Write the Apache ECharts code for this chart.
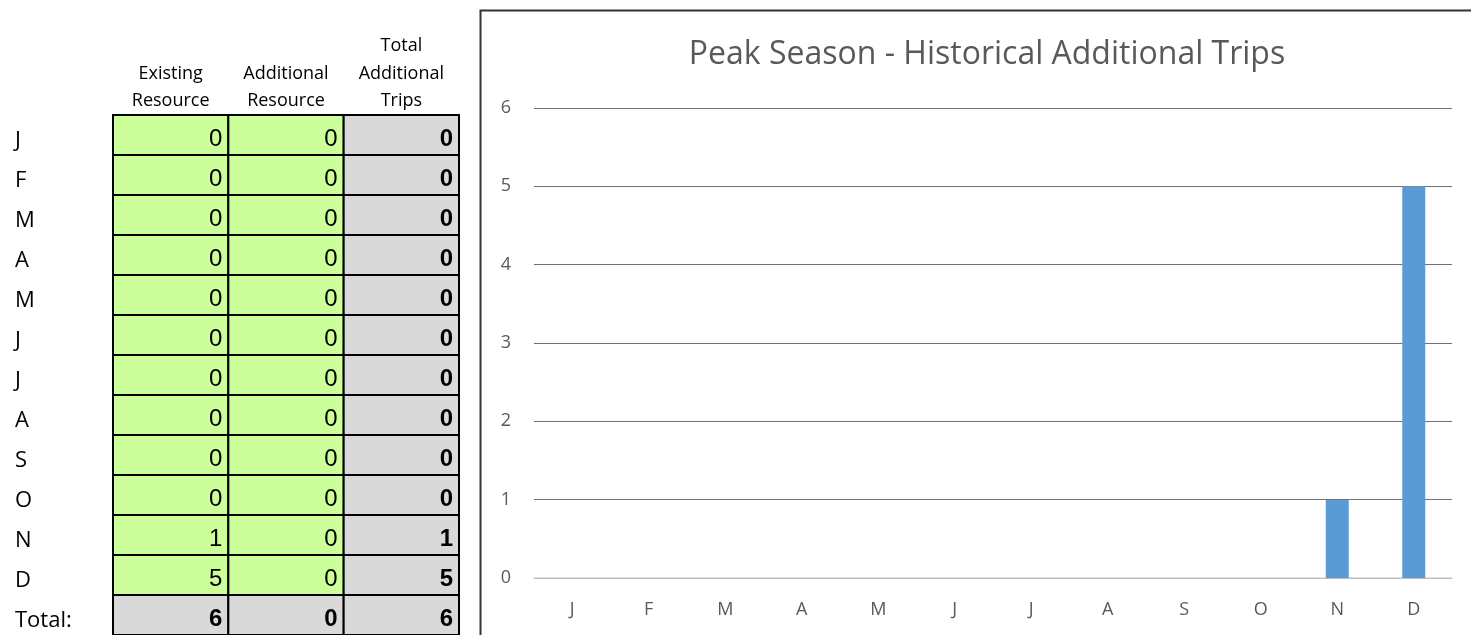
<!DOCTYPE html>
<html><head><meta charset="utf-8">
<script src="https://cdn.jsdelivr.net/npm/echarts@6/dist/echarts.min.js"></script>
<style>html,body{margin:0;padding:0;background:#fff}#c{width:1471px;height:635px}</style>
</head><body><div id="c"></div>
<script>
const months = ['J','F','M','A','M','J','J','A','S','O','N','D'];
const rowLabels = ['J','F','M','A','M','J','J','A','S','O','N','D','Total:'];
const colHeaders = ['Existing\nResource','Additional\nResource','Total\nAdditional\nTrips'];
const existing   = [0,0,0,0,0,0,0,0,0,0,1,5];
const additional = [0,0,0,0,0,0,0,0,0,0,0,0];
const totalTrips = [0,0,0,0,0,0,0,0,0,0,1,5];
const totalsRow  = [6,0,6];
const chartTitle = 'Peak Season - Historical Additional Trips';

const cells = [];
for (let r = 0; r < 12; r++) {
  cells.push([0, r, existing[r]]);
  cells.push([1, r, additional[r]]);
  cells.push([2, r, totalTrips[r]]);
}
for (let c = 0; c < 3; c++) cells.push([c, 12, totalsRow[c]]);

const chart = echarts.init(document.getElementById('c'), null, {renderer:'canvas'});
chart.setOption({
  animation: false,
  title: {
    text: chartTitle, left: 982, top: 34, textAlign: 'center',
    textStyle: {fontFamily: 'Open Sans', fontSize: 32, fontWeight: 'normal', color: '#595959'}
  },
  graphic: [{
    type: 'rect', shape: {x: 480.5, y: 10.5, width: 1100, height: 700},
    style: {fill: 'none', stroke: '#333', lineWidth: 2}, z: 100, silent: true
  }],
  grid: [
    {left: 113, top: 115, width: 346, height: 525, containLabel: false},
    {left: 534, right: 19, top: 108, bottom: 57, containLabel: false}
  ],
  xAxis: [
    {type: 'category', gridIndex: 0, position: 'top', data: colHeaders,
     axisLine: {show: false}, axisTick: {show: false}, splitLine: {show: false},
     axisLabel: {interval: 0, margin: 0, fontFamily: 'Open Sans', fontSize: 18, lineHeight: 27.5, color: '#000', align: 'center'}},
    {type: 'category', gridIndex: 1, data: months,
     axisLine: {show: true, lineStyle: {color: '#d9d9d9', width: 1.5}},
     axisTick: {show: false},
     axisLabel: {interval: 0, margin: 23, fontFamily: 'Open Sans', fontSize: 18, color: '#595959'}}
  ],
  yAxis: [
    {type: 'category', gridIndex: 0, inverse: true, data: rowLabels,
     axisLine: {show: false}, axisTick: {show: false}, splitLine: {show: false},
     axisLabel: {interval: 0, margin: 98, align: 'left',
                 formatter: function (v) { return '{a|' + v + '}'; },
                 rich: {a: {fontFamily: 'Open Sans', fontSize: 22, color: '#000', padding: [11, 0, 0, 0]}}}},
    {type: 'value', gridIndex: 1, min: 0, max: 6, interval: 1,
     axisLine: {show: false}, axisTick: {show: false},
     splitLine: {lineStyle: {color: '#6f6f6f', width: 1}},
     axisLabel: {margin: 23, fontFamily: 'Open Sans', fontSize: 18, color: '#595959'}}
  ],
  series: [
    {
      type: 'custom', xAxisIndex: 0, yAxisIndex: 0, data: cells, clip: false,
      renderItem: function (params, api) {
        const c = api.value(0), r = api.value(1), v = api.value(2);
        const pt = api.coord([c, r]);
        const sz = api.size([1, 1]);
        const x0 = pt[0] - sz[0] / 2, y0 = pt[1] - sz[1] / 2;
        const isTotal = r === 12;
        const green = c < 2 && !isTotal;
        const bold = c === 2 || isTotal;
        return {
          type: 'group',
          children: [
            {type: 'rect', shape: {x: x0, y: y0, width: sz[0], height: sz[1]},
             style: {fill: green ? '#ccff99' : '#d9d9d9', stroke: '#000', lineWidth: 2}},
            {type: 'text', x: x0 + sz[0] - 6, y: pt[1] + 4,
             style: {text: String(v), align: 'right', verticalAlign: 'middle',
                     font: (bold ? 'bold ' : '') + '24px "Liberation Sans", Arial, sans-serif', fill: '#000'}}
          ]
        };
      }
    },
    {
      type: 'bar', xAxisIndex: 1, yAxisIndex: 1, data: totalTrips,
      barWidth: 23, itemStyle: {color: '#5b9bd5'}
    }
  ]
});
</script></body></html>
